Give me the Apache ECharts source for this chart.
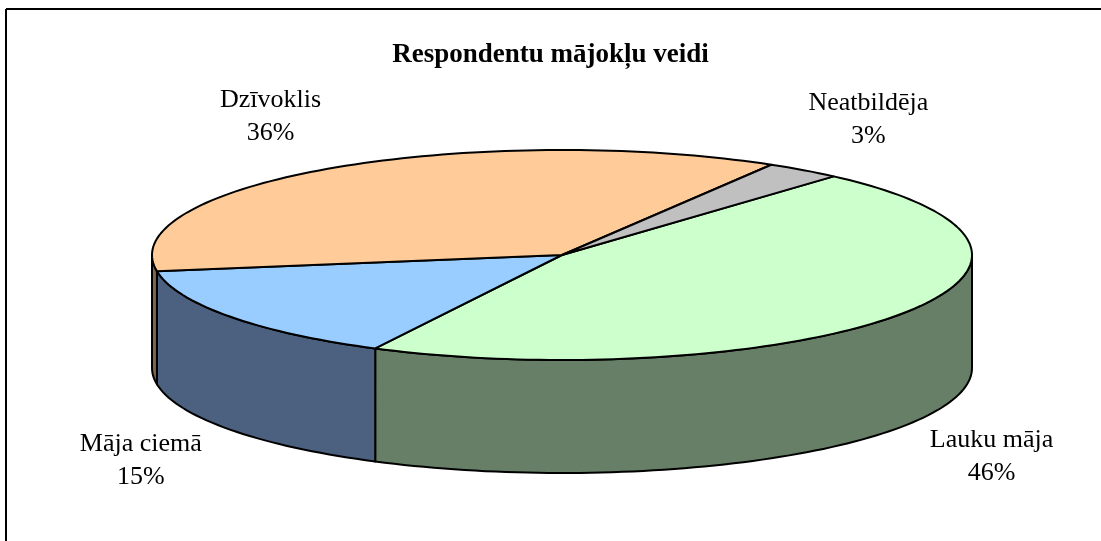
<!DOCTYPE html>
<html>
<head>
<meta charset="utf-8">
<script src="https://cdn.jsdelivr.net/npm/echarts@6/dist/echarts.min.js"></script>
<style>
  html, body { margin: 0; padding: 0; background: #fff; }
  #main { width: 1101px; height: 541px; }
</style>
</head>
<body>
<div id="main"></div>
<script type="text/javascript">
    // dati
    var names = ['Lauku māja', 'Māja ciemā', 'Dzīvoklis', 'Neatbildēja'];
    var values = [46, 15, 36, 3];
    var topColors = ['#CCFFCC', '#99CCFF', '#FFCC99', '#C0C0C0'];
    var sideColors = ['#667F66', '#4C617F', '#7F664C', '#606060'];

    // 3D pīrāga ģeometrija
    var cx = 562, cy = 255, rx = 410, ry = 105, depth = 113;
    var startDeg = -48.5;

    var total = values.reduce(function (a, b) { return a + b; }, 0);
    var angles = [];
    var acc = startDeg;
    values.forEach(function (v) {
        var a0 = acc;
        acc += v / total * 360;
        angles.push([a0, acc]);
    });

    function pt(deg, dy) {
        var r = deg * Math.PI / 180;
        return [cx + rx * Math.cos(r), cy + ry * Math.sin(r) + (dy || 0)];
    }

    function arc(a0, a1, dy) {
        var pts = [];
        var n = Math.max(2, Math.ceil(Math.abs(a1 - a0) / 1.5));
        for (var i = 0; i <= n; i++) {
            pts.push(pt(a0 + (a1 - a0) * i / n, dy));
        }
        return pts;
    }

    function renderSide(params, api) {
        var i = params.dataIndex;
        var a0 = angles[i][0], a1 = angles[i][1];
        var children = [];
        [-360, 0, 360].forEach(function (off) {
            var s = Math.max(a0, off), e = Math.min(a1, off + 180);
            if (e - s > 0.01) {
                var top = arc(s, e, 0);
                var bot = arc(e, s, depth);
                children.push({
                    type: 'polygon',
                    shape: { points: top.concat(bot) },
                    style: { fill: sideColors[i], stroke: '#000', lineWidth: 2, lineJoin: 'round' }
                });
            }
        });
        return { type: 'group', children: children };
    }

    function renderTop(params, api) {
        var i = params.dataIndex;
        var a0 = angles[i][0], a1 = angles[i][1];
        var pts = [[cx, cy]].concat(arc(a0, a1, 0));
        var mid = (a0 + a1) / 2 * Math.PI / 180;
        var lx = cx + (rx + 110) * Math.cos(mid);
        var ly = cy + (ry + 62) * Math.sin(mid) + (Math.sin(mid) > 0 ? depth - 5 : 0);
        var pct = Math.round(api.value(0) / total * 100) + '%';
        return {
            type: 'group',
            children: [{
                type: 'polygon',
                shape: { points: pts },
                style: { fill: topColors[i], stroke: '#000', lineWidth: 2, lineJoin: 'round' }
            }, {
                type: 'text',
                x: lx, y: ly,
                style: {
                    text: names[i] + '\n' + pct,
                    fill: '#000',
                    font: '26px "Liberation Serif", "Times New Roman", serif',
                    lineHeight: 33,
                    align: 'center',
                    verticalAlign: 'middle'
                }
            }]
        };
    }

    var myChart = echarts.init(document.getElementById('main'));

    var option = {
        backgroundColor: '#fff',
        animation: false,
        title: {
            text: 'Respondentu mājokļu veidi',
            left: 'center',
            top: 37,
            textStyle: {
                fontFamily: '"Liberation Serif", "Times New Roman", serif',
                fontSize: 27,
                fontWeight: 'bold',
                color: '#000'
            }
        },
        graphic: [
            { type: 'line', shape: { x1: 6, y1: 9, x2: 1101, y2: 9 }, style: { stroke: '#000', lineWidth: 2 } },
            { type: 'line', shape: { x1: 6, y1: 9, x2: 6, y2: 541 }, style: { stroke: '#000', lineWidth: 2 } }
        ],
        series: [
            {
                type: 'custom',
                coordinateSystem: 'none',
                z: 1,
                renderItem: renderSide,
                data: values.map(function (v) { return [v]; })
            },
            {
                type: 'custom',
                coordinateSystem: 'none',
                z: 2,
                renderItem: renderTop,
                data: values.map(function (v) { return [v]; })
            }
        ]
    };
    myChart.setOption(option);
</script>
</body>
</html>
